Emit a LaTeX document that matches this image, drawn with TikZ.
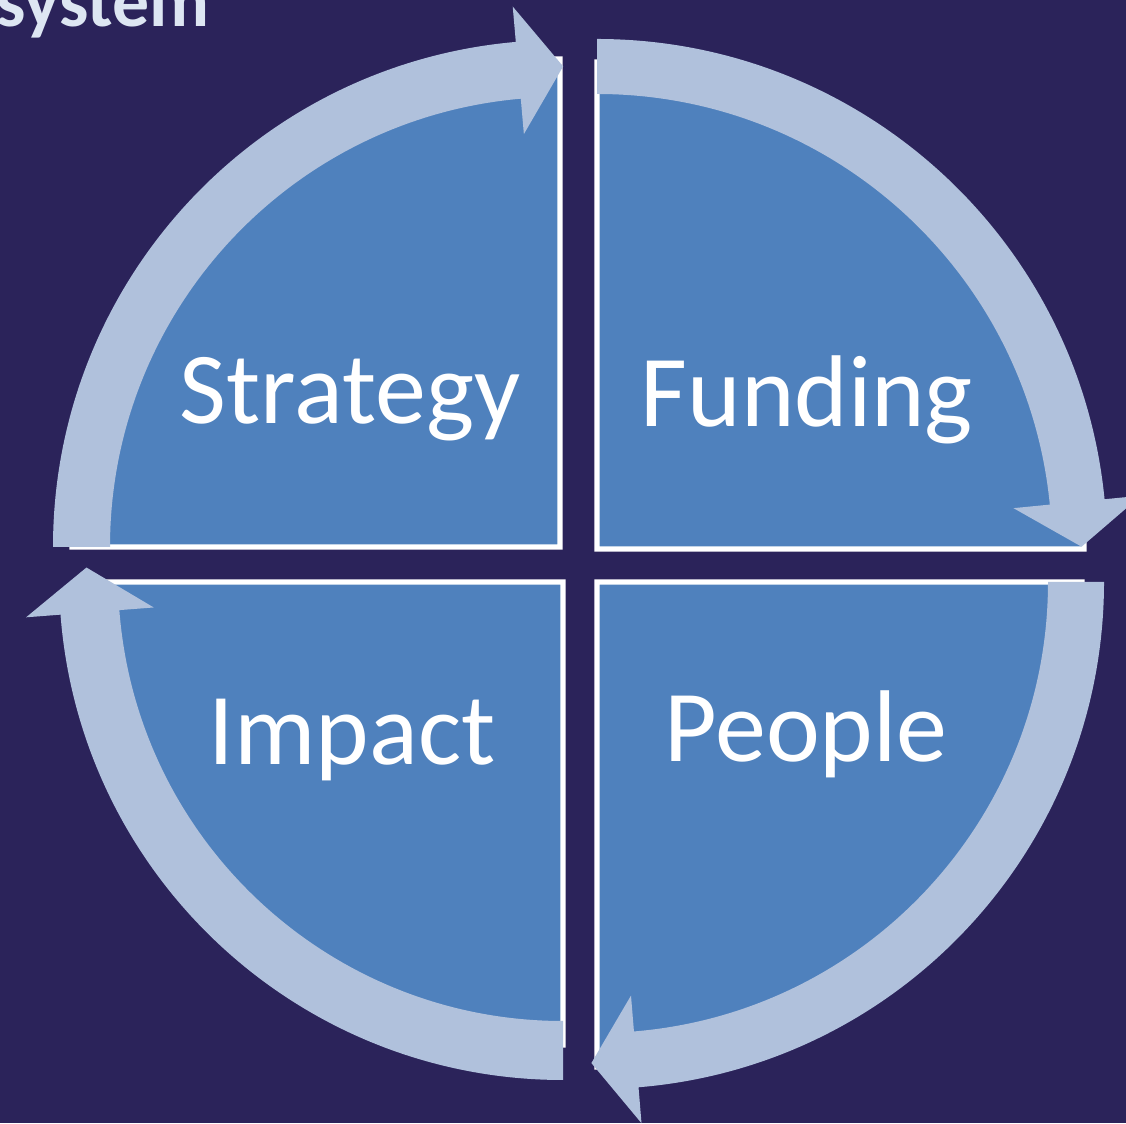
\documentclass[tikz,border=0pt]{standalone}
\usepackage{fontspec}
\setmainfont{Carlito}
\usepackage{tikz}
\usetikzlibrary{calc}
\usepackage{xcolor}

\definecolor{navybg}{RGB}{43,35,90}
\definecolor{sectorblue}{RGB}{79,129,189}
\definecolor{bandblue}{RGB}{176,193,220}
\definecolor{titlegrey}{RGB}{221,230,242}

% curved band with a straight head at its end: centre, from, to, inner, outer
\newcommand{\cyclearc}[5]{%
  \pgfmathsetmacro{\rmid}{(#4+#5)/2}%
  \pgfmathsetmacro{\rhi}{\rmid+0.64}%
  \pgfmathsetmacro{\rlo}{\rmid-0.64}%
  \pgfmathsetmacro{\tipang}{#3-90}%
  \fill[band] ($(#1)+(#2:#5)$) arc[start angle=#2, end angle=#3, radius=#5]
    -- ($(#1)+(#3:\rhi)$) -- ($(#1)+(#3:\rmid)+(\tipang:0.45)$)
    -- ($(#1)+(#3:\rlo)$) -- ($(#1)+(#3:#4)$)
    arc[start angle=#3, end angle=#2, radius=#4] -- cycle;
}

\begin{document}
\begin{tikzpicture}[
    sector/.style={fill=sectorblue,draw=white,line width=1.5pt},
    band/.style={fill=bandblue},
    quarter/.style={text=white,font=\fontsize{29pt}{35pt}\selectfont,anchor=base}]
    \fill[navybg] (0,0) rectangle (11.26,11.23);
    \useasboundingbox (0,0) rectangle (11.26,11.23);
    \clip (0,0) rectangle (11.26,11.23);

    \node[anchor=base west,text=titlegrey,font=\fontsize{21pt}{25pt}\selectfont\bfseries] (title) at (-0.16,10.96) {system};

    \coordinate (tl) at (5.60,5.76);
    \coordinate (tr) at (5.97,5.74);
    \coordinate (br) at (5.97,5.41);
    \coordinate (bl) at (5.63,5.41);
    \coordinate (blc) at (5.63,5.47);

    % four quarters
    \filldraw[sector] (tl) -- ++(180:4.88) arc[start angle=180, end angle=90, radius=4.88] -- cycle;
    \filldraw[sector] (tr) -- ++(90:4.87) arc[start angle=90, end angle=0, radius=4.87] -- cycle;
    \filldraw[sector] (br) -- ++(0:4.85) arc[start angle=0, end angle=-90, radius=4.85] -- cycle;
    \filldraw[sector] (bl) -- ++(270:4.63) arc[start angle=270, end angle=180, radius=4.63] -- cycle;

    % arrows round the cycle
    \cyclearc{tl}{180}{95}{4.50}{5.07}
    \cyclearc{tr}{90}{5.6}{4.55}{5.10}
    \cyclearc{br}{0}{-85.3}{4.51}{5.07}
    \cyclearc{blc}{-90}{-175.6}{4.45}{5.04}

    \node[quarter] (strategy) at (3.50,6.99) {Strategy};
    \node[quarter] (funding) at (8.07,6.96) {Funding};
    \node[quarter] (impact) at (3.52,3.58) {Impact};
    \node[quarter] (people) at (8.06,3.61) {People};
\end{tikzpicture}
\end{document}
